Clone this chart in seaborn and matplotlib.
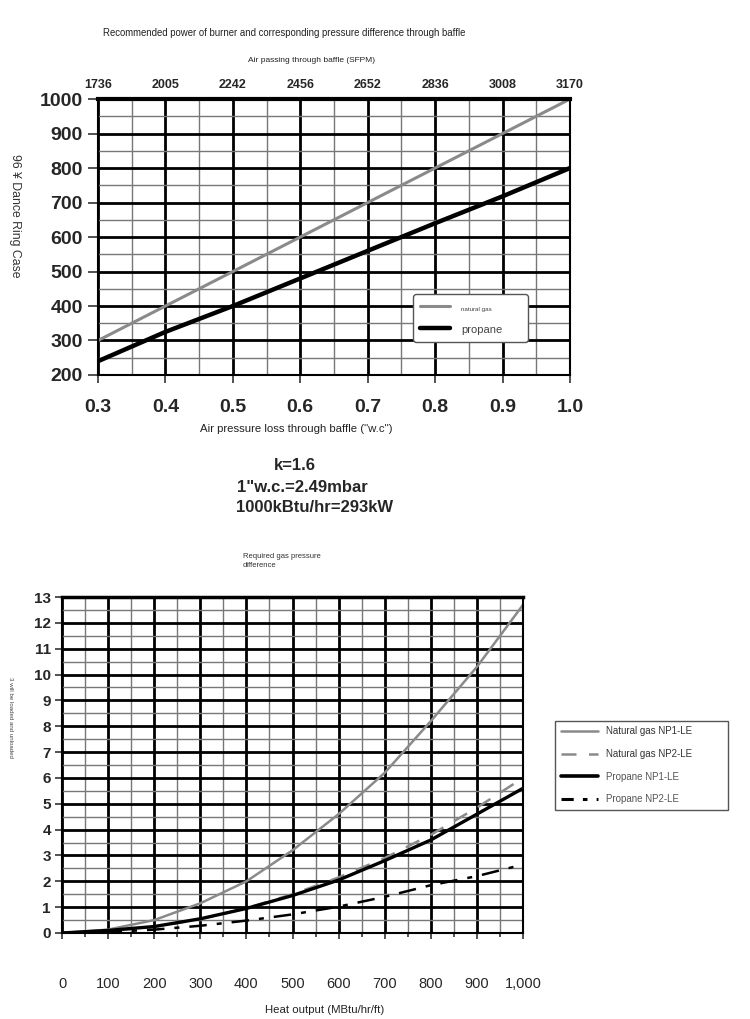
import matplotlib
matplotlib.use("Agg")
import matplotlib.pyplot as plt
import seaborn as sns
import pandas as pd
from matplotlib.lines import Line2D
from matplotlib.ticker import MultipleLocator, FuncFormatter

sns.set_style("white")
plt.rcParams['font.family'] = ['Liberation Sans', 'DejaVu Sans']

# ---------------- data: top chart ----------------
air_loss = [0.3, 0.4, 0.5, 0.6, 0.7, 0.8, 0.9, 1.0]
sfpm_labels = ["1736", "2005", "2242", "2456", "2652", "2836", "3008", "3170"]
natural_gas_power = [300, 400, 500, 600, 700, 800, 900, 1000]
propane_power = [240, 325, 400, 480, 560, 640, 718, 800]

# ---------------- data: bottom chart ----------------
heat_output = [0, 100, 200, 300, 400, 500, 600, 700, 800, 900, 1000]
ng_np1 = [0, 0.13, 0.5, 1.15, 2.0, 3.2, 4.6, 6.2, 8.2, 10.3, 12.7]
ng_np2 = [0, 0.06, 0.24, 0.54, 0.96, 1.5, 2.15, 2.9, 3.8, 4.85, 6.0]
prop_np1 = [0, 0.1, 0.25, 0.55, 0.95, 1.45, 2.05, 2.8, 3.6, 4.6, 5.6]
prop_np2 = [0, 0.04, 0.13, 0.28, 0.48, 0.72, 1.02, 1.4, 1.85, 2.2, 2.65]

GREY = "#8a8a8a"

fig = plt.figure(figsize=(7.5, 10.19), dpi=100)

# ================= TOP CHART =================
ax1 = fig.add_axes([0.1307, 0.632, 0.6293, 0.2708])
df_top = pd.DataFrame({"x": air_loss, "ng": natural_gas_power, "pr": propane_power})
sns.lineplot(data=df_top, x="x", y="ng", ax=ax1, color=GREY, lw=2.2, label="natural gas")
sns.lineplot(data=df_top, x="x", y="pr", ax=ax1, color="black", lw=3.2, label="propane")
ax1.set_xlim(0.3, 1.0)
ax1.set_ylim(200, 1000)
ax1.xaxis.set_major_locator(MultipleLocator(0.1))
ax1.xaxis.set_minor_locator(MultipleLocator(0.05))
ax1.yaxis.set_major_locator(MultipleLocator(100))
ax1.yaxis.set_minor_locator(MultipleLocator(50))
ax1.xaxis.set_major_formatter(FuncFormatter(lambda v, p: f"{v:.1f}"))
ax1.grid(which="major", color="black", lw=2.0, zorder=0)
ax1.grid(which="minor", color="#777777", lw=1.0, zorder=0)
ax1.set_axisbelow(True)
for s in ax1.spines.values():
    s.set_color("black")
    s.set_linewidth(1.5)
ax1.spines["top"].set_linewidth(3)
ax1.tick_params(axis="y", which="major", left=True, length=7, width=1.2, color="#333",
                labelsize=14, pad=4)
ax1.tick_params(axis="x", which="major", bottom=True, length=6, width=1.2, color="#333",
                labelsize=14, pad=11)
ax1.tick_params(which="minor", length=0)
for t in ax1.get_xticklabels() + ax1.get_yticklabels():
    t.set_fontweight("bold")
ax1.set_xlabel("")
ax1.set_ylabel("")
fig.text(296 / 750, 1 - 429 / 1019, 'Air pressure loss through baffle ("w.c")', fontsize=8.2,
         ha="center", va="center", color="#222")

ax1top = ax1.twiny()
ax1top.set_xlim(ax1.get_xlim())
ax1top.set_xticks(air_loss)
ax1top.set_xticklabels(sfpm_labels, fontsize=9, fontweight="bold")
ax1top.tick_params(axis="x", length=0, pad=6)
for s in ax1top.spines.values():
    s.set_visible(False)

fig.text(312 / 750, 1 - 60 / 1019, "Air passing through baffle (SFPM)", fontsize=6.0,
         ha="center", va="center", color="#222")

leg1 = ax1.legend(loc="lower left", bbox_to_anchor=(0.667, 0.12, 0.244, 0.163),
                  mode="expand", frameon=True, fancybox=True, edgecolor="#555",
                  framealpha=1, handlelength=2.2, borderpad=0.5, labelspacing=0.8,
                  borderaxespad=0)
leg1.get_frame().set_linewidth(1.0)
for txt, fs in zip(leg1.get_texts(), [4.5, 8]):
    txt.set_fontsize(fs)
    txt.set_color("#444")

fig.text(0.137, 1 - 33 / 1019,
         "Recommended power of burner and corresponding pressure difference through baffle",
         fontsize=6.9, ha="left", va="center", color="#222")
fig.text(0.02, 0.788, "96 ¥ Dance Ring Case", rotation=270, fontsize=8.8, ha="center",
         va="center", color="#333")

# Notes
fig.text(0.393, 0.543, "k=1.6", fontsize=12, fontweight="bold", ha="center", va="center")
fig.text(0.403, 0.522, '1"w.c.=2.49mbar', fontsize=12, fontweight="bold", ha="center", va="center")
fig.text(0.419, 0.502, "1000kBtu/hr=293kW", fontsize=12, fontweight="bold", ha="center", va="center")
fig.text(0.324, 0.449, "Required gas pressure\ndifference", fontsize=5.5, ha="left", va="center",
         color="#333", linespacing=1.4)

# ================= BOTTOM CHART =================
ax2 = fig.add_axes([0.0827, 0.0844, 0.6147, 0.3297])
df_bot = pd.DataFrame({"x": heat_output, "ng1": ng_np1, "ng2": ng_np2,
                       "p1": prop_np1, "p2": prop_np2})
sns.lineplot(data=df_bot, x="x", y="ng1", ax=ax2, color=GREY, lw=1.8)
sns.lineplot(data=df_bot, x="x", y="ng2", ax=ax2, color=GREY, lw=1.8, linestyle=(0, (6, 5)))
sns.lineplot(data=df_bot, x="x", y="p1", ax=ax2, color="black", lw=2.4)
sns.lineplot(data=df_bot, x="x", y="p2", ax=ax2, color="black", lw=1.8,
             linestyle=(0, (7, 4, 2, 4)))
ax2.set_xlim(0, 1000)
ax2.set_ylim(0, 13)
ax2.xaxis.set_major_locator(MultipleLocator(100))
ax2.xaxis.set_minor_locator(MultipleLocator(50))
ax2.yaxis.set_major_locator(MultipleLocator(1))
ax2.yaxis.set_minor_locator(MultipleLocator(0.5))
ax2.xaxis.set_major_formatter(FuncFormatter(lambda v, p: f"{int(v):,}"))
ax2.grid(which="major", color="black", lw=2.0, zorder=0)
ax2.grid(which="minor", color="#777777", lw=1.0, zorder=0)
ax2.set_axisbelow(True)
for s in ax2.spines.values():
    s.set_color("black")
    s.set_linewidth(1.5)
ax2.spines["top"].set_linewidth(2.5)
ax2.tick_params(axis="y", which="major", left=True, length=5, width=1.2, color="#333",
                labelsize=11, pad=3)
ax2.tick_params(axis="x", which="major", bottom=True, length=4, width=1.2, color="#333",
                labelsize=10.5, pad=28)
ax2.tick_params(axis="x", which="minor", bottom=True, length=3, width=1.2, color="#333")
ax2.tick_params(axis="y", which="minor", length=0)
for t in ax2.get_yticklabels():
    t.set_fontweight("bold")
ax2.set_xlabel("")
ax2.set_ylabel("")
fig.text(325 / 750, 1 - 1010 / 1019, "Heat output (MBtu/hr/ft)", fontsize=8.2,
         ha="center", va="center", color="#222")

fig.text(0.014, 0.296, "3 will be loaded and unloaded", rotation=270, fontsize=4.4,
         ha="center", va="center", color="#444")

handles = [Line2D([], [], color=GREY, lw=1.8),
           Line2D([], [], color=GREY, lw=1.8, linestyle=(0, (6, 5))),
           Line2D([], [], color="black", lw=2.6),
           Line2D([], [], color="black", lw=2.2, linestyle=(0, (4, 3, 1.5, 3)))]
labels = ["Natural gas NP1-LE", "Natural gas NP2-LE", "Propane NP1-LE", "Propane NP2-LE"]
leg2 = fig.legend(handles, labels, loc="lower left",
                  bbox_to_anchor=(0.74, 0.205, 0.231, 0.088), mode="expand",
                  frameon=True, fancybox=False, edgecolor="#555", framealpha=1,
                  fontsize=7, handlelength=3.8, labelspacing=1.3, borderpad=0.6,
                  borderaxespad=0)
leg2.get_frame().set_linewidth(1.0)
for txt, c in zip(leg2.get_texts(), ["#333", "#333", "#555", "#555"]):
    txt.set_color(c)

fig.savefig("out.png", dpi=100)
